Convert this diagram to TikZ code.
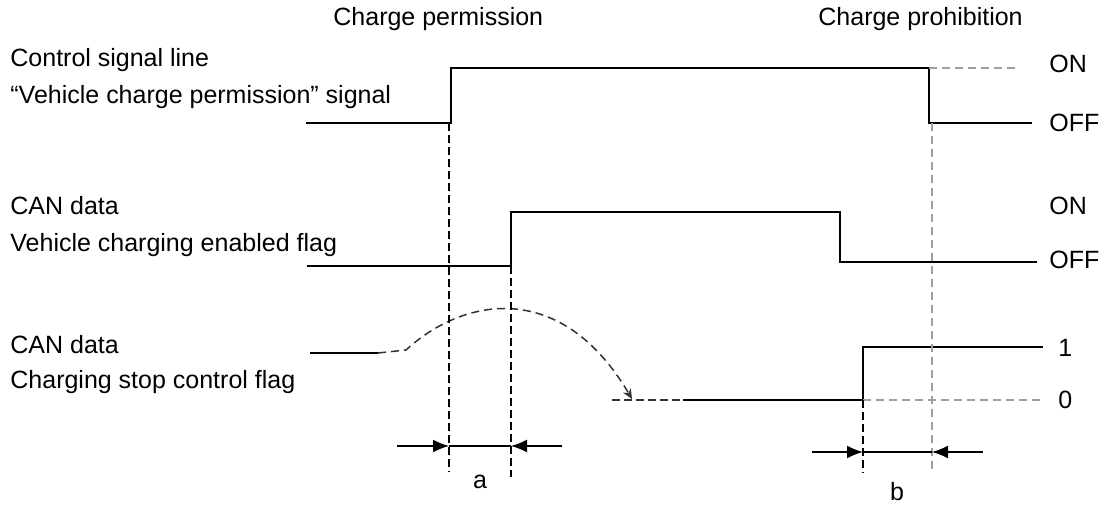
\documentclass[tikz,border=0pt]{standalone}
\usepackage{fontspec}
\setmainfont{Liberation Sans}
\usetikzlibrary{arrows.meta,positioning}

\begin{document}
\begin{tikzpicture}[
    x=0.5pt, y=-0.5pt,
    every node/.style={font=\fontsize{12.5}{15}\selectfont, inner sep=0pt},
    lbl/.style={anchor=base west},
    lvl/.style={anchor=west},
    wave/.style={line width=0.9pt},
    guide/.style={line width=0.75pt, dash pattern=on 4pt off 2pt},
    guidegray/.style={guide, gray!75, dash pattern=on 4pt off 2.5pt},
    hop/.style={guide, black!80, dash pattern=on 4pt off 2.5pt, -{Stealth[length=5pt,width=4.5pt]}},
    dim/.style={line width=0.75pt, -{Latex[length=8pt,width=6.5pt]}}
  ]
    \useasboundingbox (0,0) rectangle (1105,506);
    % headers
    \node[lbl] (permit) at (333,26) {Charge permission};
    \node[lbl] (prohib) at (818,26) {Charge prohibition};
    % signal names
    \node[lbl] (ctrl) at (10,67) {Control signal line};
    \node[below=18.5pt of ctrl.base west, anchor=base west] (ctrlsig) {``Vehicle charge permission'' signal};
    \node[lbl] (can1) at (10,215) {CAN data};
    \node[below=18.5pt of can1.base west, anchor=base west] (enflag) {Vehicle charging enabled flag};
    \node[lbl] (can2) at (10,354) {CAN data};
    \node[below=17.5pt of can2.base west, anchor=base west] (stopflag) {Charging stop control flag};
    % levels
    \node[lvl] (on1) at (1049,64) {ON};
    \node[lvl] (off1) at (1049,123) {OFF};
    \node[lvl] (on2) at (1049,206) {ON};
    \node[lvl] (off2) at (1049,260) {OFF};
    \node[lvl] (one) at (1058,348) {1};
    \node[lvl] (zero) at (1058,400) {0};
    % control signal line
    \coordinate (s1a) at (306,123);
    \coordinate (s1b) at (451,123);
    \coordinate (s1c) at (451,68);
    \coordinate (s1d) at (929,68);
    \coordinate (s1e) at (929,123);
    \coordinate (s1f) at (1032,123);
    \coordinate (s1g) at (1016,68);
    \draw[wave] (s1a) -- (s1b) -- (s1c) -- (s1d) -- (s1e) -- (s1f);
    \draw[guidegray] (s1d) -- (s1g);
    % enabled flag
    \coordinate (s2a) at (307,266);
    \coordinate (s2b) at (511,266);
    \coordinate (s2c) at (511,212);
    \coordinate (s2d) at (840,212);
    \coordinate (s2e) at (840,262);
    \coordinate (s2f) at (1037,262);
    \draw[wave] (s2a) -- (s2b) -- (s2c) -- (s2d) -- (s2e) -- (s2f);
    % stop flag
    \coordinate (s3a) at (310,353);
    \coordinate (s3b) at (378,353);
    \coordinate (s3c) at (406,350);
    \coordinate (s3d) at (632,399);
    \coordinate (s3e) at (612,400);
    \coordinate (s3f) at (683,400);
    \coordinate (s3g) at (863,400);
    \coordinate (s3h) at (863,347);
    \coordinate (s3i) at (1043,347);
    \coordinate (s3j) at (1042,400);
    \draw[wave] (s3a) -- (s3b);
    \draw[hop] (s3b) -- (s3c) .. controls (465,296) and (562,280) .. (s3d);
    \draw[guide, black!80] (s3e) -- (s3f);
    \draw[wave] (s3f) -- (s3g) -- (s3h) -- (s3i);
    \draw[guidegray] (s3g) -- (s3j);
    % timing guides
    \coordinate (v1a) at (449,123);
    \coordinate (v1b) at (449,472);
    \coordinate (v2a) at (511,266);
    \coordinate (v2b) at (511,477);
    \coordinate (v3a) at (863,400);
    \coordinate (v3b) at (863,473);
    \coordinate (v4a) at (932,123);
    \coordinate (v4b) at (932,473);
    \draw[guide] (v1a) -- (v1b);
    \draw[guide] (v2a) -- (v2b);
    \draw[guide] (v3a) -- (v3b);
    \draw[guidegray] (v4a) -- (v4b);
    % delay a
    \coordinate (a1) at (397,446);
    \coordinate (a2) at (449,446);
    \coordinate (a3) at (511,446);
    \coordinate (a4) at (562,446);
    \draw[dim] (a1) -- (a2);
    \draw[line width=0.75pt] (a2) -- (a3);
    \draw[dim] (a4) -- (a3);
    \node (dela) at (480,482) {a};
    % delay b
    \coordinate (b1) at (812,452);
    \coordinate (b2) at (863,452);
    \coordinate (b3) at (932,452);
    \coordinate (b4) at (983,452);
    \draw[dim] (b1) -- (b2);
    \draw[line width=0.75pt] (b2) -- (b3);
    \draw[dim] (b4) -- (b3);
    \node (delb) at (897,492) {b};
\end{tikzpicture}
\end{document}
